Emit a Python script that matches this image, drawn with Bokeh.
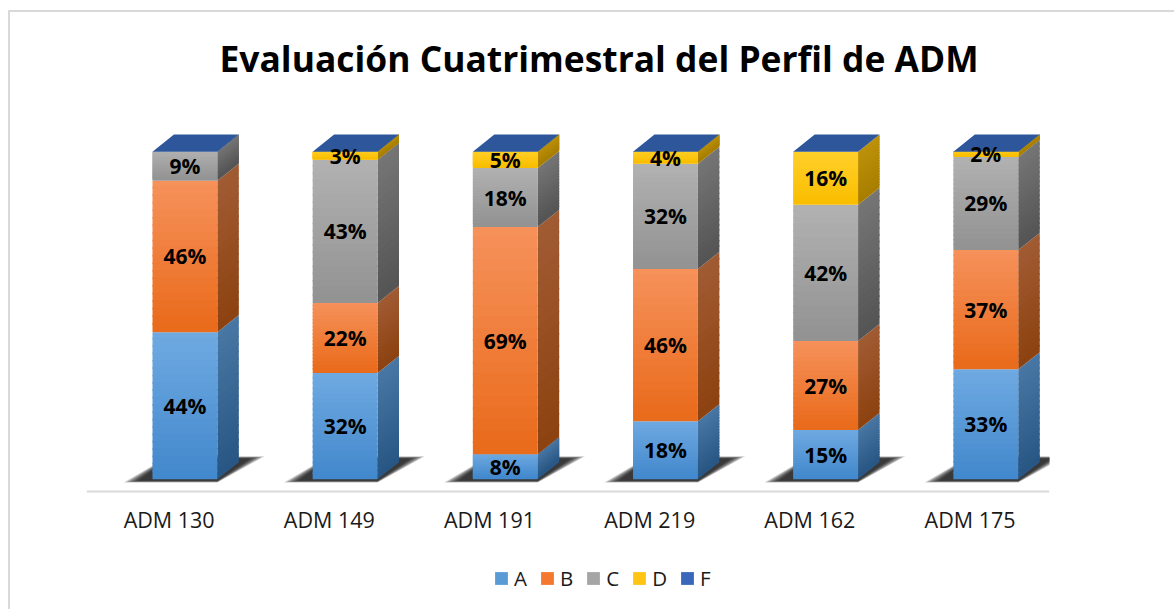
from bokeh.plotting import figure
from bokeh.embed import file_html
from bokeh.resources import INLINE
from bokeh.core.properties import value
from bokeh.models import Range1d, Title, FixedTicker, Legend, LegendItem, ColumnDataSource

categories = ["ADM 130", "ADM 149", "ADM 191", "ADM 219", "ADM 162", "ADM 175"]
series_names = ["A", "B", "C", "D", "F"]
A = [44.9, 32.4, 7.6, 17.7, 15.0, 33.6]
B = [46.2, 21.4, 69.4, 46.5, 27.2, 36.4]
C = [8.9, 43.7, 18.0, 32.1, 41.6, 28.4]
D = [0.0, 2.5, 5.0, 3.7, 16.2, 1.6]
F = [0.0, 0.0, 0.0, 0.0, 0.0, 0.0]
labels_A = ["44%", "32%", "8%", "18%", "15%", "33%"]
labels_B = ["46%", "22%", "69%", "46%", "27%", "37%"]
labels_C = ["9%", "43%", "18%", "32%", "42%", "29%"]
labels_D = ["", "3%", "5%", "4%", "16%", "2%"]

FRONT = {"A": ((112, 170, 226), (66, 136, 204)), "B": ((246, 146, 92), (233, 106, 26)),
         "C": ((178, 178, 178), (146, 146, 146)), "D": ((255, 208, 44), (250, 190, 0))}
SIDE = {"A": ((74, 120, 165), (40, 86, 132)), "B": ((162, 92, 52), (140, 66, 16)),
        "C": ((118, 118, 118), (84, 84, 84)), "D": ((190, 146, 10), (168, 126, 0))}
LEGEND_COL = {"A": "#5b9bd5", "B": "#f4792f", "C": "#a5a5a5", "D": "#ffc414", "F": "#3a66bc"}
TOP_COL = "#2d569b"

W, H = 1174, 609
BAR_L, BAR_W, DX, DY = 0.412, 0.405, 0.134, 5.2
TICK_OFF = 0.516
PX_PER_PCT = 3.27
FRAME_TOP_PCT = 115.0
FRAME_BOTTOM_PCT = -130 / PX_PER_PCT
AXIS_PCT = -12 / PX_PER_PCT
X_END = 6.012
N = 20
OV = 0.5

def mix(c0, c1, t):
    return "#%02x%02x%02x" % tuple(round(a + (b - a) * t) for a, b in zip(c0, c1))

g = "linear-gradient(#d9d9d9,#d9d9d9)"
p = figure(width=W, height=H, output_backend="svg", toolbar_location=None,
           x_range=Range1d(0, X_END), y_range=Range1d(FRAME_BOTTOM_PCT, FRAME_TOP_PCT),
           min_border_left=86, min_border_right=125, min_border_bottom=0,
           min_border_top=102, outline_line_color=None, background_fill_color=None,
           border_fill_color=None,
           styles={"background": f"{g} 8px 10px/2px 100% no-repeat, {g} 8px 10px/100% 2px no-repeat, white"})
p.grid.visible = False
p.yaxis.visible = False
ax = p.xaxis[0]
ax.fixed_location = AXIS_PCT
ax.bounds = (0, X_END)
ax.ticker = FixedTicker(ticks=[i + TICK_OFF for i in range(6)])
ax.major_label_overrides = {i + TICK_OFF: c for i, c in enumerate(categories)}
ax.major_tick_line_color = None
ax.minor_tick_line_color = None
ax.axis_line_color = "#d9d9d9"
ax.axis_line_width = 2
ax.major_label_text_font = "Open Sans"
ax.major_label_text_font_size = "21.5px"
ax.major_label_text_color = "#1a1a1a"
ax.major_label_standoff = 8

t = Title(text="Evaluación Cuatrimestral del Perfil de ADM", text_font="Open Sans",
          text_font_size="35.4px", text_font_style="bold", text_color="black",
          align="left", offset=133, standoff=41)
p.add_layout(t, "above")

# floor shadows
for k in range(8):
    ins = k * 0.008
    sx, sy = [], []
    for i in range(6):
        L = i + BAR_L
        R = L + BAR_W
        sx.append([L - 0.18 + ins * 1.6, R + 0.0, R + 0.295 - ins * 1.6, L + 0.1])
        sy.append([-1.0 + ins * 10, -1.0 + ins * 10, 7.0 - ins * 12, 7.0 - ins * 12])
    p.patches(sx, sy, fill_color="#000000", fill_alpha=0.17, line_color=None)

# stacked faces, each split in thin bands to give the vertical shading
fl, fr, fb, ft, fc = [], [], [], [], []
sx, sy, sc = [], [], []
tl_t, tl_xc, tl_yc = [], [], []
for i in range(6):
    L = i + BAR_L
    R = L + BAR_W
    base = 0.0
    for name, vals, labs in (("A", A, labels_A), ("B", B, labels_B), ("C", C, labels_C), ("D", D, labels_D)):
        v = vals[i]
        if v <= 0:
            continue
        for s in range(N - 1, -1, -1):
            b0 = base + v * s / N
            b1 = min(base + v, base + v * (s + 1) / N + OV)
            tt = 1 - (s + 0.5) / N
            fl.append(L); fr.append(R); fb.append(b0); ft.append(b1)
            fc.append(mix(*FRONT[name], tt))
            sx.append([R, R + DX, R + DX, R])
            sy.append([b0, b0 + DY, b1 + DY, b1])
            sc.append(mix(*SIDE[name], tt))
        tl_xc.append(L + BAR_W / 2)
        tl_yc.append(base + v / 2)
        tl_t.append(labs[i])
        base += v
    base += F[i]

p.patches(sx, sy, fill_color=sc, line_color=None)
p.quad(left=fl, right=fr, bottom=fb, top=ft, fill_color=fc, line_color=None)

tops = [sum(s[i] for s in (A, B, C, D, F)) for i in range(6)]
p.patches([[i + BAR_L, i + BAR_L + BAR_W, i + BAR_L + BAR_W + DX, i + BAR_L + DX] for i in range(6)],
          [[tops[i], tops[i], tops[i] + DY, tops[i] + DY] for i in range(6)],
          fill_color=TOP_COL, line_color=None)

src = ColumnDataSource(dict(x=tl_xc, y=tl_yc, t=tl_t))
p.text(x="x", y="y", text="t", source=src, text_font=value("Open Sans"), text_font_style="bold",
       text_font_size="21px", text_color="black", text_align="center", text_baseline="middle")

# legend
items = []
for n in series_names:
    r = p.quad(left=[-5], right=[-5], bottom=[-5], top=[-5], fill_color=LEGEND_COL[n], line_color=None)
    items.append(LegendItem(label=n, renderers=[r]))
leg = Legend(items=items, orientation="horizontal", location=(407, 17), glyph_width=16, glyph_height=16,
             label_text_font="Open Sans", label_text_font_size="20.5px", label_text_color="#1a1a1a",
             label_standoff=5, spacing=12, padding=0, margin=0, border_line_color=None,
             background_fill_alpha=0, label_height=14, label_width=10)
p.add_layout(leg, "center")

open("out.html", "w").write(file_html(p, INLINE))
